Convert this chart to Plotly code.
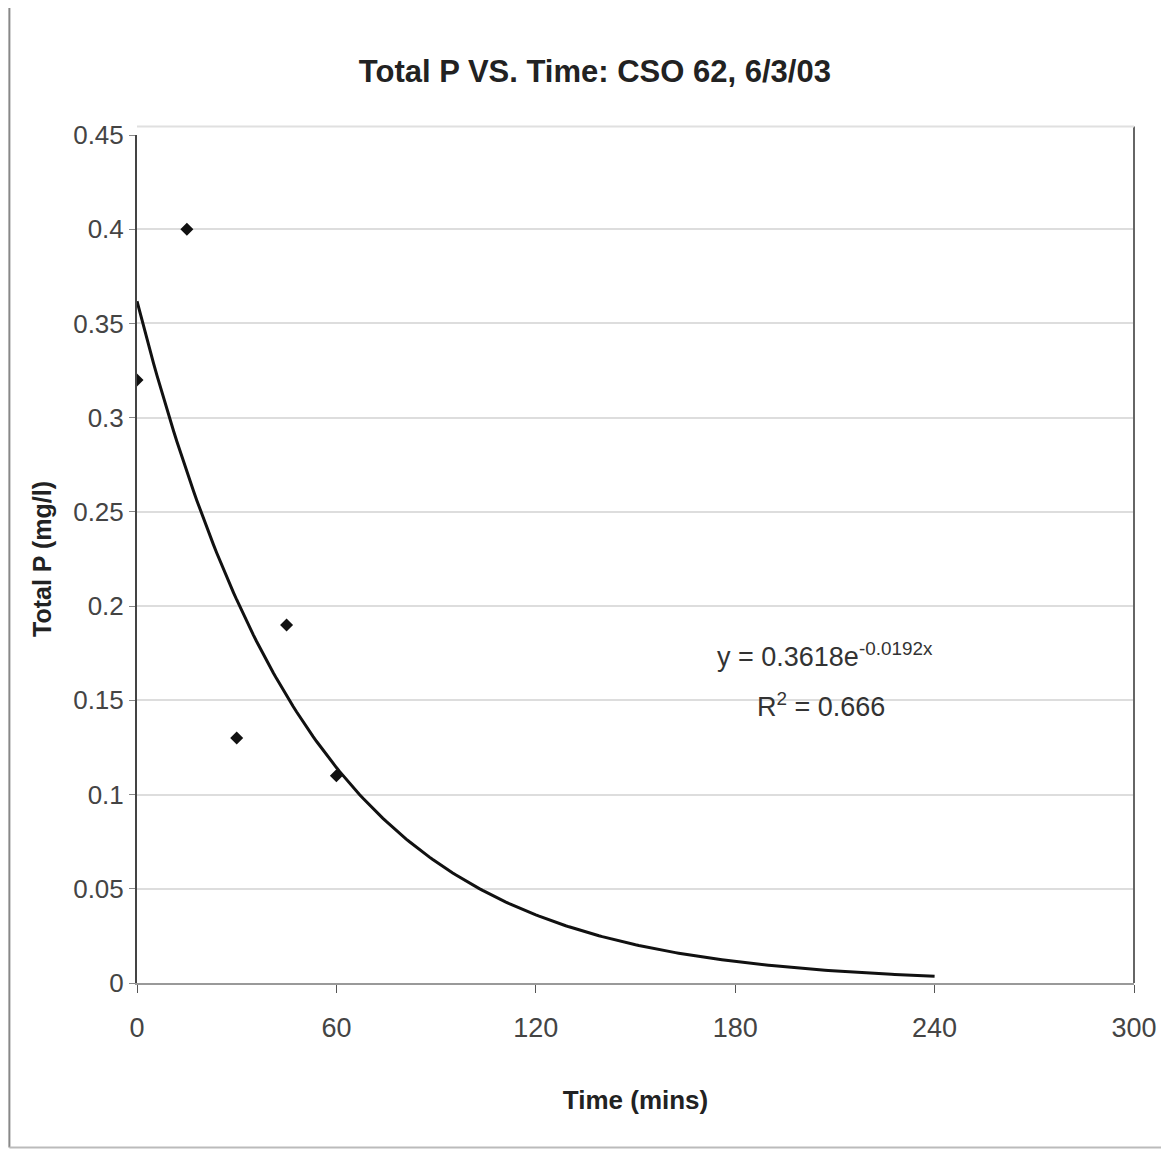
import numpy as np
import plotly.graph_objects as go

# Data
time_mins = [0, 15, 30, 45, 60]
total_p = [0.32, 0.40, 0.13, 0.19, 0.11]

# Exponential trendline shown on the chart: y = a * exp(b * x), from 0 to 240 min
trend_a = 0.3618
trend_b = -0.0192
trend_x_end = 240
r_squared = 0.666

x_ticks = [0, 60, 120, 180, 240, 300]
y_ticks = [0, 0.05, 0.1, 0.15, 0.2, 0.25, 0.3, 0.35, 0.4, 0.45]
y_tick_text = ["0", "0.05", "0.1", "0.15", "0.2", "0.25", "0.3", "0.35", "0.4", "0.45"]

FONT = "Liberation Sans, Arial, sans-serif"

trend_x = np.linspace(0, trend_x_end, 241)
trend_y = trend_a * np.exp(trend_b * trend_x)

fig = go.Figure()
fig.add_trace(go.Scatter(
    x=trend_x, y=trend_y, mode="lines",
    line=dict(color="#111111", width=3), hoverinfo="skip", showlegend=False,
))
fig.add_trace(go.Scatter(
    x=time_mins, y=total_p, mode="markers",
    marker=dict(symbol="diamond", size=10, color="#111111"),
    showlegend=False,
))

fig.add_annotation(
    x=0.58, y=0.387, xref="paper", yref="paper", xanchor="left", yanchor="middle",
    text=f"y = {trend_a}e<sup>{trend_b}x</sup>", showarrow=False,
    font=dict(family=FONT, size=27, color="#333333"),
)
fig.add_annotation(
    x=0.62, y=0.328, xref="paper", yref="paper", xanchor="left", yanchor="middle",
    text=f"R<sup>2</sup> = {r_squared}", showarrow=False,
    font=dict(family=FONT, size=27, color="#333333"),
)

# Outer chart border (partial frame as in scan)
fig.add_shape(type="line", xref="paper", yref="paper",
              x0=-0.128, x1=-0.128, y0=1.151, y1=-0.194,
              line=dict(color="#888888", width=2))
fig.add_shape(type="line", xref="paper", yref="paper",
              x0=-0.128, x1=1.03, y0=1.151, y1=1.151,
              line=dict(color="#999999", width=2))
fig.add_shape(type="line", xref="paper", yref="paper",
              x0=-0.128, x1=1.03, y0=-0.194, y1=-0.194,
              line=dict(color="#bbbbbb", width=2))

fig.update_layout(
    width=1161, height=1144,
    margin=dict(l=129, r=32, t=127, b=169),
    paper_bgcolor="white", plot_bgcolor="white",
    title=dict(
        text="<b>Total P VS. Time: CSO 62, 6/3/03</b>",
        x=0.5055, xanchor="center", y=0.945, yanchor="middle",
        font=dict(family=FONT, size=31, color="#222222"),
    ),
    font=dict(family=FONT, color="#333333"),
    showlegend=False,
)
fig.update_xaxes(
    range=[0, 300], tickvals=x_ticks, ticktext=[str(v) for v in x_ticks],
    ticks="outside", ticklen=8, tickcolor="#555555",
    showline=True, linecolor="#999999", linewidth=2, mirror=False,
    showgrid=False, zeroline=False,
    ticklabelstandoff=12,
    tickfont=dict(family=FONT, size=27, color="#444444"),
    title=dict(text="<b>Time (mins)</b>", font=dict(family=FONT, size=26, color="#222222"), standoff=48),
)
fig.update_yaxes(
    range=[0, 0.45], tickvals=y_ticks, ticktext=y_tick_text,
    ticks="outside", ticklen=6, tickcolor="#888888",
    showline=True, linecolor="#444444", linewidth=2,
    showgrid=True, gridcolor="#dddddd", gridwidth=2, zeroline=False,
    tickfont=dict(family=FONT, size=26, color="#444444"),
    title=dict(text="<b>Total P (mg/l)</b>", font=dict(family=FONT, size=25, color="#222222"), standoff=14),
)
# right and top border of plot area
fig.add_shape(type="line", xref="paper", yref="paper", x0=1, x1=1, y0=0, y1=1.01,
              line=dict(color="#666666", width=2))
fig.add_shape(type="line", xref="paper", yref="paper", x0=0, x1=1, y0=1.01, y1=1.01,
              line=dict(color="#e0e0e0", width=2))

fig.write_html("out.html")
